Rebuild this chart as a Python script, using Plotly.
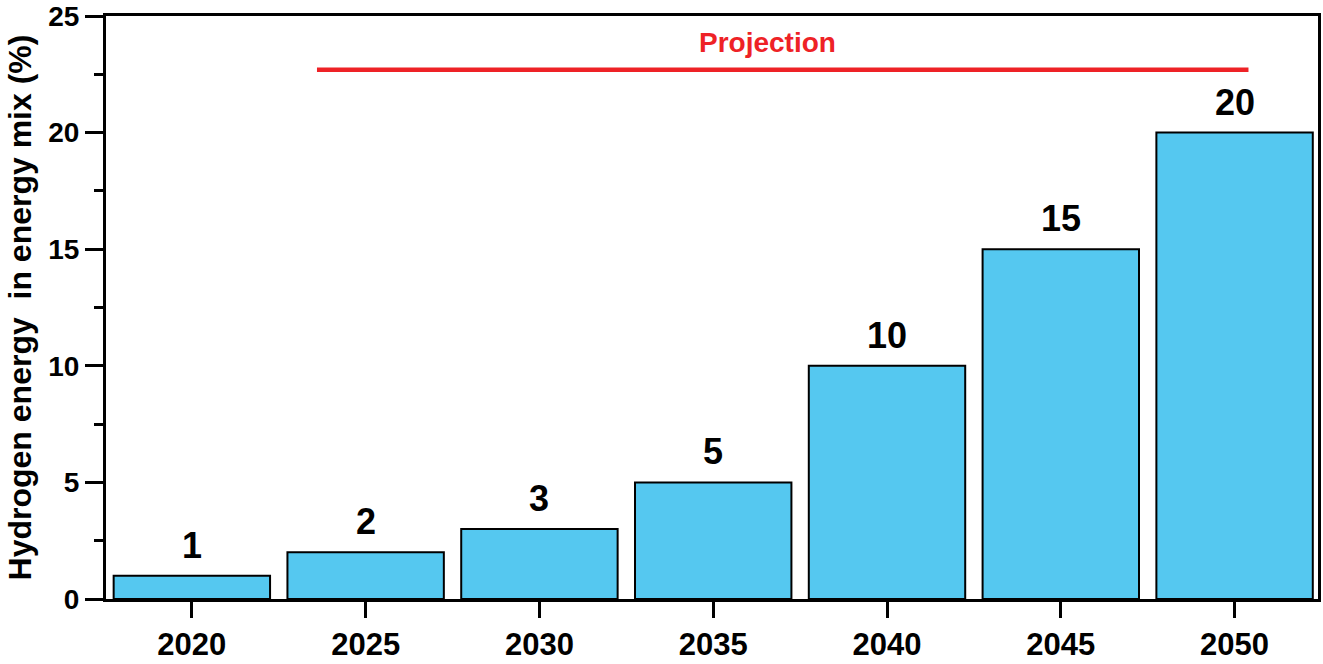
import plotly.graph_objects as go

# Hydrogen share of the energy mix, actual + projected
years = [2020, 2025, 2030, 2035, 2040, 2045, 2050]
share = [1, 2, 3, 5, 10, 15, 20]
bar_labels = ["1", "2", "3", "5", "10", "15", "20"]

# projection marker (data units)
proj_start = 2023.6
proj_end = 2050.4
proj_level = 22.7
proj_text = "Projection"

font_family = "Liberation Sans, Arial, sans-serif"

fig = go.Figure()

fig.add_trace(go.Bar(x=years,
                     y=share,
                     width=4.5,
                     marker=dict(color="#55C8F0", line=dict(color="black", width=2)),
                     showlegend=False))

# value labels over each bar
for yr, val, lab in zip(years, share, bar_labels):
    fig.add_annotation(x=yr, y=val, text="<b>" + lab + "</b>",
                       showarrow=False, yanchor="bottom", yshift=8,
                       font=dict(size=36, color="black", family=font_family))

# red projection line and its caption
fig.add_shape(type="line", x0=proj_start, x1=proj_end, y0=proj_level, y1=proj_level,
              xref="x", yref="y", line=dict(color="#EE2226", width=4.5))
fig.add_annotation(x=(proj_start + proj_end) / 2 - 0.45, y=proj_level, text="<b>" + proj_text + "</b>",
                   showarrow=False, yanchor="bottom", yshift=10,
                   font=dict(size=28, color="#EE2226", family=font_family))

fig.update_layout(width=1323, height=664,
                  margin=dict(l=106, r=5, t=16, b=65),
                  plot_bgcolor="white",
                  paper_bgcolor="white",
                  font=dict(family=font_family, color="black"))

fig.update_xaxes(range=[2017.53, 2052.4],
                 tickvals=years,
                 ticktext=["<b>%d</b>" % y for y in years],
                 tickfont=dict(size=31),
                 ticks="outside", ticklen=16, tickwidth=3, tickcolor="black",
                 showline=True, linecolor="black", linewidth=3, mirror=True,
                 showgrid=False, zeroline=False, automargin=False)

fig.update_yaxes(range=[0, 25],
                 tickvals=[0, 5, 10, 15, 20, 25],
                 ticktext=["<b>%d</b>" % v for v in [0, 5, 10, 15, 20, 25]],
                 tickfont=dict(size=28),
                 ticks="outside", ticklen=18, tickwidth=3, tickcolor="black",
                 minor=dict(dtick=2.5, tick0=0, ticks="outside", ticklen=9, tickwidth=3, tickcolor="black", showgrid=False),
                 showline=True, linecolor="black", linewidth=3, mirror=True,
                 showgrid=False, zeroline=False, automargin=False,
                 title=dict(text="<b>Hydrogen energy  in energy mix (%)</b>", font=dict(size=32), standoff=8))

# drop the default page margin so the figure sits at the window corner
fig.write_html("out.html", config={"displayModeBar": False},
               post_script="document.body.style.margin = '0';")
